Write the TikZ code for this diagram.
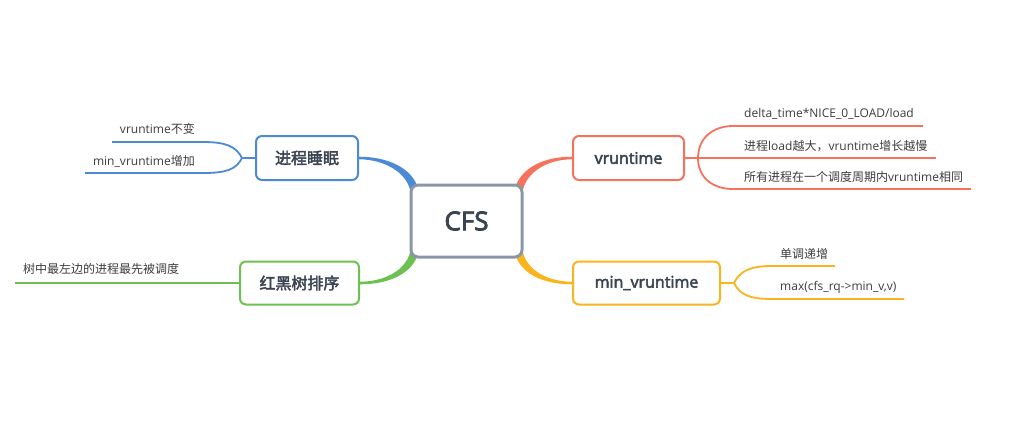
\documentclass[tikz,border=0pt]{standalone}
\usepackage{fontspec}
\setmainfont{Open Sans}
\newfontfamily\cjk{Noto Sans CJK SC}
\newfontfamily\osb[FakeBold=3]{Open Sans}
\newfontfamily\osm[FakeBold=3]{Open Sans}
\newfontfamily\cjkb[FakeBold=2.5]{Noto Sans CJK SC}
\usetikzlibrary{calc,backgrounds}
\definecolor{cred}{HTML}{F5735C}
\definecolor{cyel}{HTML}{F9B41E}
\definecolor{cblue}{HTML}{4D8AD6}
\definecolor{cgreen}{HTML}{6CC152}
\definecolor{cgray}{HTML}{8A96A8}
\definecolor{ctext}{HTML}{3A4350}
\definecolor{ltext}{HTML}{3C3C3C}
\begin{document}
\begin{tikzpicture}[x=1pt,y=-1pt,
  topic/.style={draw, line width=2pt, rounded corners=6pt, fill=white, text=ctext,
    font=\fontsize{16}{19}\selectfont\osb, inner sep=0pt, minimum height=44pt},
  leaf/.style={text=ltext, font=\fontsize{12}{14}\selectfont, inner sep=0pt, anchor=base west},
  leafr/.style={leaf, anchor=base east},
  branch/.style={line width=1.8pt}]
\useasboundingbox (0,0) rectangle (1028,437);

% central and topic nodes
\node[draw=cgray, line width=3pt, rounded corners=7pt, fill=white, minimum width=111pt,
  minimum height=72pt, text=ctext, font=\fontsize{26}{30}\selectfont\osm, inner sep=0pt] (cfs) at (466.5,221) {CFS};
\node[topic, draw=cred, minimum width=111pt] (vr) at (628.5,158) {vruntime};
\node[topic, draw=cyel, minimum width=147pt, minimum height=43pt] (mv) at (646.5,283) {min\_vruntime};
\node[topic, draw=cblue, minimum width=102pt] (sl) at (307,158) {\cjkb 进程睡眠};
\node[topic, draw=cgreen, minimum width=119pt, minimum height=43pt] (rb) at (299.5,283) {\cjkb 红黑树排序};

% tapered main connectors
\begin{pgfonlayer}{background}
\fill[cred] ($(cfs.north east)+(-9,6)$) .. controls +(6,-22) and +(-28,0) .. ($(vr.west)+(0,-1.3)$)
  -- ($(vr.west)+(0,1.3)$) .. controls +(-24,0) and +(4,-20) .. ($(cfs.north east)+(-1,8)$) -- cycle;
\fill[cblue] ($(cfs.north west)+(9,6)$) .. controls +(-6,-22) and +(28,0) .. ($(sl.east)+(0,-1.3)$)
  -- ($(sl.east)+(0,1.3)$) .. controls +(24,0) and +(-4,-20) .. ($(cfs.north west)+(1,8)$) -- cycle;
\fill[cgreen] ($(cfs.south west)+(9,-6)$) .. controls +(-6,22) and +(28,0) .. ($(rb.east)+(0,1.3)$)
  -- ($(rb.east)+(0,-1.3)$) .. controls +(24,0) and +(-4,20) .. ($(cfs.south west)+(1,-8)$) -- cycle;
\fill[cyel] ($(cfs.south east)+(-9,-6)$) .. controls +(6,22) and +(-28,0) .. ($(mv.west)+(0,1.3)$)
  -- ($(mv.west)+(0,-1.3)$) .. controls +(-24,0) and +(4,20) .. ($(cfs.south east)+(-1,-8)$) -- cycle;
\end{pgfonlayer}

% vruntime leaves
\coordinate (vrj) at ($(vr.east)+(13,0)$);
\coordinate (vr1a) at (733,126); \coordinate (vr1b) at (923,126);
\coordinate (vr2b) at (936,158);
\coordinate (vr3a) at (733,189); \coordinate (vr3b) at (971,189);
\draw[cred,branch] (vr.east) -- (vrj) -- (vr2b);
\draw[cred,branch] (vrj) .. controls +(0,-20) and +(-20,0) .. (vr1a) -- (vr1b);
\draw[cred,branch] (vrj) .. controls +(0,20) and +(-20,0) .. (vr3a) -- (vr3b);
\node[leaf] (vrt1) at (744,117) {delta\_time*NICE\_0\_LOAD/load};
\node[leaf] (vrt2) at (744,150) {{\cjk 进程}load{\cjk 越大，}vruntime{\cjk 增长越慢}};
\node[leaf] (vrt3) at (744,181) {{\cjk 所有进程在一个调度周期内}vruntime{\cjk 相同}};

% min_vruntime leaves
\coordinate (mvj) at ($(mv.east)+(13,0)$);
\coordinate (mv1a) at (772,266); \coordinate (mv1b) at (835,266);
\coordinate (mv2a) at (772,299); \coordinate (mv2b) at (904,299);
\draw[cyel,branch] (mv.east) -- (mvj);
\draw[cyel,branch] (mvj) .. controls +(6,-12) and +(-22,0) .. (mv1a) -- (mv1b);
\draw[cyel,branch] (mvj) .. controls +(6,12) and +(-22,0) .. (mv2a) -- (mv2b);
\node[leaf] (mvt1) at (780,258) {\cjk 单调递增};
\node[leaf] (mvt2) at (780,290) {max(cfs\_rq->min\_v,v)};

% sleep leaves
\coordinate (slj) at ($(sl.west)+(-13,0)$);
\coordinate (sl1a) at (203,142); \coordinate (sl1b) at (112,142);
\coordinate (sl2a) at (203,173); \coordinate (sl2b) at (85,173);
\draw[cblue,branch] (sl.west) -- (slj);
\draw[cblue,branch] (slj) .. controls +(-6,-12) and +(22,0) .. (sl1a) -- (sl1b);
\draw[cblue,branch] (slj) .. controls +(-6,12) and +(22,0) .. (sl2a) -- (sl2b);
\node[leafr] (slt1) at (195,133) {vruntime{\cjk 不变}};
\node[leafr] (slt2) at (195,165) {min\_vruntime{\cjk 增加}};

% rb-tree leaf
\coordinate (rbe) at (15,283);
\draw[cgreen,branch] (rb.west) -- (rbe);
\node[leaf] (rbt) at (23,273) {\cjk 树中最左边的进程最先被调度};
\end{tikzpicture}
\end{document}
